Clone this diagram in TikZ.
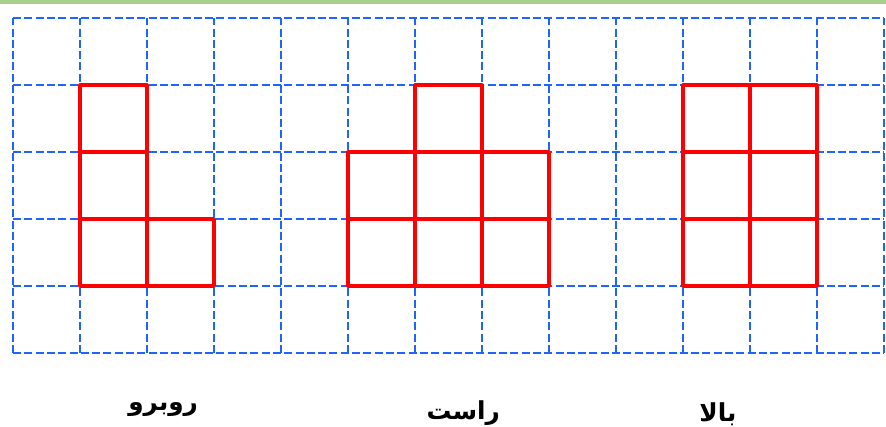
\documentclass[tikz,border=0pt]{standalone}
\usepackage{fontspec}
\TeXXeTstate=1
\newfontfamily\arabicfont[Script=Arabic]{DejaVu Sans}
\definecolor{gridblue}{RGB}{30,100,255}
\definecolor{bargreen}{RGB}{169,209,142}
\begin{document}
\begin{tikzpicture}[line join=round,
  gridline/.style={gridblue, line width=0.8pt, dash pattern=on 3.4pt off 1.4pt},
  viewline/.style={red, line width=1.3pt},
  viewname/.style={font=\fontsize{10.5}{12}\selectfont\arabicfont\bfseries}]
\useasboundingbox (-0.194,-1.09) rectangle (13.03,5.269);
\fill[bargreen] (-0.194,5.21) rectangle (13.03,5.269);
\draw[gridline] (0,0) grid (13,5);
% front view
\draw[viewline] (1,1) rectangle (2,4) (1,2) -- (2,2) (1,3) -- (2,3);
\draw[viewline] (2,1) rectangle (3,2);
% right view
\draw[viewline] (5,1) rectangle (8,3) (5,2) -- (8,2) (6,1) -- (6,3) (7,1) -- (7,3);
\draw[viewline] (6,3) rectangle (7,4);
% top view
\draw[viewline] (10,1) rectangle (12,4) (11,1) -- (11,4) (10,2) -- (12,2) (10,3) -- (12,3);
\path
(2.24,-0.85) node[viewname] (front) {\beginR روبرو\endR}
(6.72,-0.9) node[viewname] (right) {\beginR راست\endR}
(10.52,-0.92) node[viewname] (top) {\beginR بالا\endR};
\end{tikzpicture}
\end{document}
